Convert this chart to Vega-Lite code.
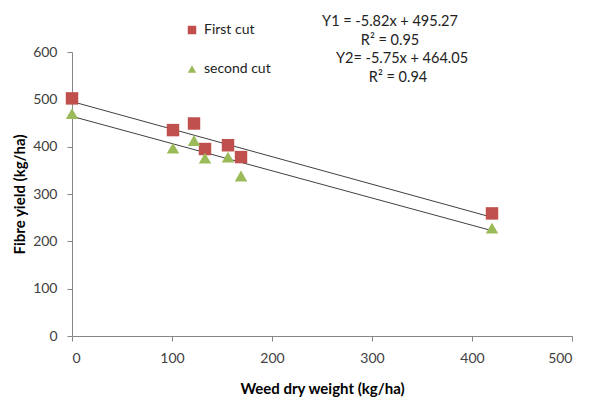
{
  "$schema": "https://vega.github.io/schema/vega-lite/v6.json",
  "width": 500,
  "height": 284,
  "autosize": {"type": "none"},
  "padding": {"left": 72, "top": 52, "right": 26, "bottom": 67},
  "background": "white",
  "config": {
    "view": {"stroke": null},
    "font": "Lato",
    "axis": {
      "grid": false,
      "domainColor": "#868686",
      "tickColor": "#868686",
      "tickSize": 5,
      "labelFontSize": 14,
      "labelColor": "#404040",
      "titleFontSize": 15,
      "titleFontWeight": "bold",
      "titleColor": "#000000"
    }
  },
  "datasets": {
    "points": [
      {"series": "First cut", "weed": 0, "yield": 502},
      {"series": "First cut", "weed": 101, "yield": 435},
      {"series": "First cut", "weed": 122, "yield": 449},
      {"series": "First cut", "weed": 133, "yield": 395},
      {"series": "First cut", "weed": 156, "yield": 403},
      {"series": "First cut", "weed": 169, "yield": 378},
      {"series": "First cut", "weed": 420, "yield": 259},
      {"series": "second cut", "weed": 0, "yield": 470},
      {"series": "second cut", "weed": 101, "yield": 397},
      {"series": "second cut", "weed": 122, "yield": 413},
      {"series": "second cut", "weed": 133, "yield": 376},
      {"series": "second cut", "weed": 156, "yield": 378},
      {"series": "second cut", "weed": 169, "yield": 338},
      {"series": "second cut", "weed": 420, "yield": 228}
    ],
    "trend": [
      {"series": "First cut", "weed": 0, "yield": 495.27},
      {"series": "First cut", "weed": 420, "yield": 250.8},
      {"series": "second cut", "weed": 0, "yield": 464.05},
      {"series": "second cut", "weed": 420, "yield": 222.5}
    ],
    "eqs": [
      {"weed": 318, "yield": 663, "label": "Y1 = -5.82x + 495.27"},
      {"weed": 318, "yield": 623, "label": "R² = 0.95"},
      {"weed": 330, "yield": 585, "label": "Y2= -5.75x + 464.05"},
      {"weed": 326, "yield": 545, "label": "R² = 0.94"}
    ]
  },
  "layer": [
    {
      "data": {"name": "trend"},
      "mark": {"type": "line", "color": "#404040", "strokeWidth": 1},
      "encoding": {
        "x": {"field": "weed", "type": "quantitative", "scale": {"domain": [0, 500]},
          "axis": {"values": [0, 100, 200, 300, 400, 500], "title": "Weed dry weight (kg/ha)", "titlePadding": 16, "labelPadding": 10}},
        "y": {"field": "yield", "type": "quantitative", "scale": {"domain": [0, 600]},
          "axis": {"values": [0, 100, 200, 300, 400, 500, 600], "title": "Fibre yield (kg/ha)", "titlePadding": 5, "labelPadding": 10}},
        "detail": {"field": "series"}
      }
    },
    {
      "data": {"name": "points"},
      "mark": {"type": "point", "filled": true, "opacity": 1},
      "encoding": {
        "x": {"field": "weed", "type": "quantitative"},
        "y": {"field": "yield", "type": "quantitative"},
        "shape": {"field": "series", "type": "nominal",
          "scale": {"domain": ["First cut", "second cut"], "range": ["square", "triangle-up"]}},
        "color": {"field": "series", "type": "nominal",
          "scale": {"domain": ["First cut", "second cut"], "range": ["#C0504D", "#9BBB59"]},
          "legend": {"orient": "none", "legendX": 113, "legendY": -29, "title": null,
            "labelFontSize": 14, "labelColor": "#222222", "symbolSize": 72, "rowPadding": 24, "labelOffset": 5, "symbolOpacity": 1}},
        "size": {"value": 155}
      }
    },
    {
      "data": {"name": "eqs"},
      "mark": {"type": "text", "fontSize": 14.5, "color": "#222222", "align": "center", "baseline": "middle"},
      "encoding": {
        "x": {"field": "weed", "type": "quantitative"},
        "y": {"field": "yield", "type": "quantitative"},
        "text": {"field": "label"}
      }
    }
  ]
}
